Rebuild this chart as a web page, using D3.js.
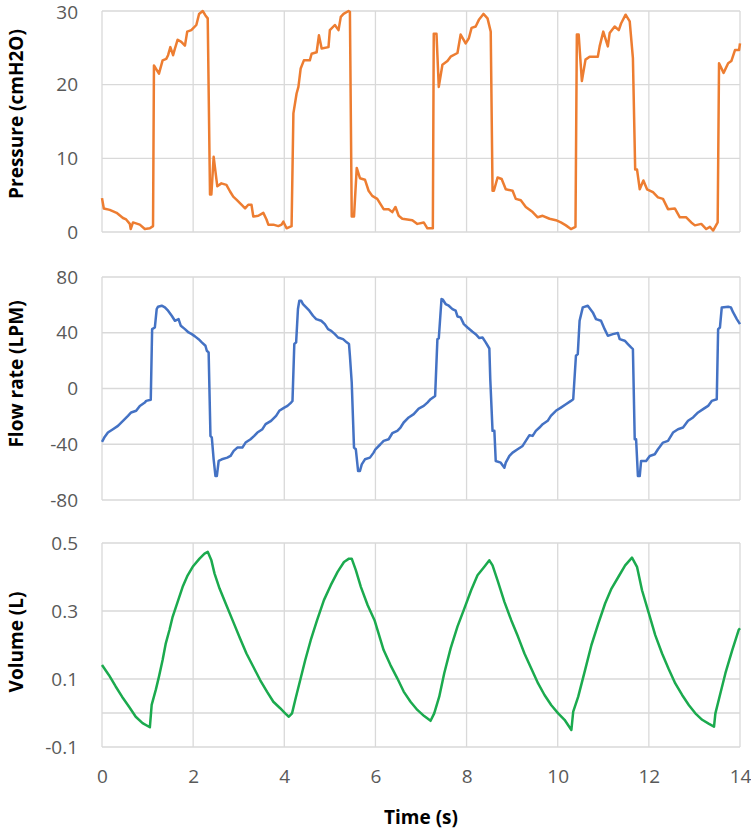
<!DOCTYPE html>
<html>
<head>
<meta charset="utf-8">
<script src="https://cdn.jsdelivr.net/npm/d3@7"></script>
<style>
  html, body { margin: 0; padding: 0; background: #fff; }
  svg { display: block; }
</style>
</head>
<body>
<svg id="chart" width="751" height="830"></svg>
<script>
// ---- Data ----
const timeTicks = [0, 2, 4, 6, 8, 10, 12, 14];

const pressureTicks = [0, 10, 20, 30];
const pressureTime = [0.00,0.04,0.17,0.32,0.46,0.53,0.61,0.63,0.68,0.83,0.94,1.05,1.12,1.14,1.25,1.33,1.41,1.45,1.50,1.56,1.60,1.66,1.74,1.82,1.87,1.96,2.07,2.13,2.21,2.27,2.32,2.37,2.40,2.45,2.53,2.62,2.73,2.81,2.88,2.95,3.06,3.14,3.21,3.28,3.32,3.43,3.54,3.61,3.65,3.76,3.87,3.94,3.98,4.05,4.16,4.20,4.27,4.31,4.36,4.43,4.56,4.60,4.71,4.76,4.82,4.97,5.00,5.11,5.19,5.24,5.30,5.41,5.44,5.48,5.53,5.59,5.66,5.77,5.85,5.93,6.04,6.18,6.29,6.37,6.44,6.51,6.59,6.81,6.92,7.06,7.14,7.26,7.28,7.34,7.39,7.47,7.58,7.65,7.80,7.87,7.98,8.05,8.11,8.20,8.27,8.37,8.46,8.53,8.57,8.60,8.68,8.77,8.86,9.01,9.08,9.19,9.30,9.45,9.56,9.67,9.82,9.96,10.07,10.18,10.29,10.39,10.42,10.46,10.53,10.61,10.70,10.88,10.92,11.00,11.10,11.14,11.25,11.34,11.39,11.49,11.58,11.65,11.70,11.74,11.80,11.88,11.96,12.09,12.20,12.31,12.42,12.57,12.68,12.82,12.93,13.01,13.15,13.26,13.34,13.41,13.51,13.54,13.64,13.74,13.81,13.89,13.98,14.00];
const pressureValues = [4.6,3.2,3.0,2.6,1.9,1.7,1.1,0.4,1.3,1.0,0.4,0.5,0.8,22.6,21.5,23.3,23.5,24.0,25.1,24.0,24.9,26.1,25.8,25.3,27.2,27.4,28.1,29.6,30.0,29.4,29.0,5.1,5.1,10.2,6.2,6.6,6.4,5.5,4.8,4.4,3.7,3.2,3.7,3.7,2.1,2.2,2.6,1.7,1.0,1.0,0.8,1.0,1.4,0.5,0.8,16.1,18.8,19.7,22.2,23.3,23.3,24.2,24.4,26.7,24.9,25.1,27.4,28.1,27.4,29.2,29.6,30.0,29.9,2.1,2.1,8.7,7.3,7.1,5.6,4.9,4.5,3.1,3.1,2.7,3.4,2.2,1.8,1.6,1.1,1.3,0.5,0.5,26.9,26.9,19.7,22.7,23.2,23.8,24.3,26.8,25.6,26.3,27.7,27.9,28.8,29.6,29.0,27.2,5.6,5.6,7.4,7.2,5.8,5.6,4.5,4.3,3.4,2.7,2.0,2.2,1.8,1.6,1.3,0.9,0.4,0.7,26.8,26.8,20.5,23.4,23.8,23.8,25.2,27.2,25.2,27.0,27.9,27.4,28.3,29.5,28.6,23.6,8.5,8.5,5.8,7.0,5.8,5.4,4.7,4.5,3.1,3.2,2.0,2.0,1.3,0.9,1.1,0.4,0.7,0.2,1.3,22.9,21.6,22.9,23.2,24.7,24.7,25.6];

const flowTicks = [-80, -40, 0, 40, 80];
const flowTime = [0.00,0.05,0.13,0.24,0.35,0.46,0.57,0.64,0.75,0.83,0.94,0.97,1.07,1.10,1.16,1.20,1.23,1.31,1.38,1.45,1.53,1.60,1.68,1.73,1.82,1.90,1.97,2.04,2.12,2.19,2.27,2.30,2.34,2.38,2.41,2.45,2.49,2.52,2.56,2.63,2.75,2.82,2.89,2.97,3.08,3.15,3.26,3.34,3.41,3.52,3.59,3.71,3.82,3.89,4.00,4.07,4.15,4.18,4.22,4.26,4.30,4.33,4.37,4.41,4.48,4.55,4.63,4.70,4.81,4.89,4.96,5.03,5.11,5.18,5.29,5.37,5.42,5.44,5.48,5.53,5.57,5.62,5.66,5.70,5.77,5.88,5.96,6.00,6.11,6.18,6.29,6.37,6.48,6.55,6.62,6.73,6.84,6.95,7.06,7.14,7.21,7.31,7.36,7.39,7.45,7.48,7.54,7.61,7.69,7.76,7.80,7.87,7.94,8.02,8.13,8.20,8.28,8.35,8.42,8.50,8.52,8.57,8.61,8.64,8.75,8.83,8.86,8.94,9.01,9.12,9.23,9.30,9.38,9.45,9.52,9.60,9.67,9.78,9.85,9.96,10.07,10.18,10.29,10.34,10.40,10.44,10.48,10.55,10.66,10.77,10.84,10.95,11.03,11.10,11.21,11.32,11.36,11.47,11.54,11.61,11.65,11.69,11.72,11.76,11.80,11.83,11.94,12.02,12.13,12.20,12.31,12.42,12.53,12.64,12.75,12.86,12.97,13.08,13.19,13.30,13.38,13.49,13.52,13.56,13.60,13.74,13.80,13.85,13.93,14.00];
const flowValues = [-38.3,-35.2,-31.6,-29.2,-26.8,-23.2,-19.6,-17.2,-16.0,-12.5,-10.1,-8.9,-8.1,42.6,43.8,57.0,58.7,59.4,58.2,55.8,52.2,48.6,49.8,45.0,42.6,40.2,39.0,37.4,35.4,33.1,30.7,27.1,25.9,-34.0,-35.2,-50.8,-62.8,-62.8,-52.0,-50.8,-49.6,-48.4,-44.8,-42.4,-42.4,-38.8,-36.4,-34.0,-31.6,-29.2,-25.6,-23.2,-19.6,-16.0,-13.7,-12.5,-10.1,-8.9,31.9,33.1,57.0,63.0,63.0,60.6,58.2,55.8,52.2,49.8,48.6,46.2,42.6,41.4,39.0,36.6,35.4,33.1,31.9,23.5,4.3,-42.4,-43.6,-59.2,-59.2,-54.4,-50.8,-49.6,-46.0,-43.6,-40.0,-37.6,-36.4,-32.1,-30.4,-28.0,-24.4,-20.8,-18.4,-14.4,-12.5,-10.1,-7.7,-5.3,35.4,35.9,64.2,63.7,60.6,59.4,57.0,55.8,51.7,51.0,46.2,43.8,40.7,39.0,36.2,36.6,33.1,28.7,6.7,-30.4,-30.4,-52.0,-53.2,-56.8,-53.2,-48.4,-46.0,-43.6,-41.2,-37.6,-33.5,-34.0,-30.4,-28.0,-25.6,-23.2,-19.6,-16.0,-13.7,-11.3,-8.9,-7.7,23.5,24.7,48.6,58.2,59.4,54.6,49.8,48.6,42.6,37.8,39.0,39.8,35.4,34.3,31.9,29.5,28.3,-36.4,-36.4,-62.8,-62.8,-52.0,-52.0,-48.4,-47.2,-43.6,-38.8,-37.6,-31.6,-29.2,-28.0,-23.2,-20.8,-17.2,-14.8,-12.5,-8.9,-7.7,42.6,43.8,58.2,58.7,58.2,54.6,49.8,46.2];

const volumeTickValues = [-0.1, 0.1, 0.3, 0.5];
const volumeTickLabels = ["-0.1", "0.1", "0.3", "0.5"];
const volumeTime = [0.00,0.15,0.30,0.44,0.59,0.74,0.89,1.05,1.09,1.18,1.25,1.33,1.40,1.48,1.55,1.66,1.77,1.88,1.99,2.14,2.25,2.32,2.40,2.47,2.58,2.73,2.88,3.03,3.17,3.32,3.47,3.62,3.76,3.91,4.02,4.10,4.17,4.24,4.35,4.46,4.58,4.72,4.87,5.02,5.17,5.31,5.42,5.48,5.57,5.68,5.83,5.98,6.18,6.33,6.48,6.62,6.77,6.92,7.07,7.21,7.29,7.40,7.51,7.65,7.80,7.95,8.10,8.24,8.39,8.50,8.57,8.68,8.83,8.98,9.13,9.27,9.42,9.57,9.71,9.86,10.01,10.15,10.30,10.34,10.45,10.60,10.74,10.89,11.04,11.18,11.33,11.48,11.63,11.74,11.85,12.00,12.14,12.29,12.43,12.58,12.73,12.88,13.02,13.17,13.32,13.43,13.46,13.57,13.68,13.83,13.97,14.00];
const volumeValues = [0.141,0.112,0.078,0.048,0.019,-0.011,-0.030,-0.042,0.024,0.068,0.107,0.156,0.205,0.244,0.283,0.327,0.371,0.405,0.430,0.454,0.469,0.474,0.449,0.410,0.366,0.317,0.268,0.219,0.175,0.136,0.097,0.063,0.033,0.014,-0.001,-0.011,-0.001,0.038,0.097,0.156,0.214,0.273,0.332,0.376,0.415,0.444,0.454,0.454,0.420,0.371,0.317,0.273,0.185,0.141,0.102,0.063,0.033,0.009,-0.009,-0.023,-0.001,0.048,0.117,0.190,0.254,0.307,0.361,0.405,0.430,0.449,0.434,0.390,0.327,0.273,0.224,0.175,0.131,0.087,0.053,0.023,-0.001,-0.020,-0.050,0.004,0.048,0.126,0.200,0.263,0.322,0.366,0.400,0.434,0.457,0.430,0.361,0.293,0.229,0.175,0.131,0.087,0.053,0.023,-0.001,-0.020,-0.032,-0.040,-0.001,0.058,0.117,0.185,0.244,0.249];

// ---- Layout ----
const svg = d3.select("#chart");
const left = 102, right = 740;
const x = d3.scaleLinear().domain([0, 14]).range([left, right]);
const gridColor = "#d9d9d9";
const tickColor = "#595959";
const tickFont = "'Open Sans', sans-serif";

function panel(cfg) {
  const y = d3.scaleLinear().domain(cfg.domain).range([cfg.bottom, cfg.top]);
  const g = svg.append("g");
  // vertical gridlines
  g.selectAll("line.vg").data(timeTicks).join("line")
    .attr("x1", d => x(d)).attr("x2", d => x(d))
    .attr("y1", cfg.top).attr("y2", cfg.bottom)
    .attr("stroke", gridColor).attr("stroke-width", 1.3);
  // horizontal gridlines
  g.selectAll("line.hg").data(cfg.gridValues).join("line")
    .attr("x1", left).attr("x2", right)
    .attr("y1", d => y(d)).attr("y2", d => y(d))
    .attr("stroke", gridColor).attr("stroke-width", 1.3);
  // y axis tick labels
  const axis = d3.axisLeft(y).tickValues(cfg.tickValues)
    .tickFormat((d, i) => cfg.tickLabels[i]).tickSize(0).tickPadding(24);
  const ag = g.append("g").attr("transform", `translate(${left},0)`).call(axis);
  ag.select(".domain").remove();
  ag.selectAll("text").attr("fill", tickColor)
    .style("font-family", tickFont).style("font-size", "19px");
  // keep the topmost label inside the picture
  ag.selectAll(".tick").each(function () {
    const t = d3.select(this);
    const ty = y(t.datum());
    if (ty < 20) t.select("text").attr("y", 20 - ty - 8);
  });
  // data line
  const pts = cfg.time.map((t, i) => [t, cfg.values[i]]);
  g.append("path").datum(pts)
    .attr("fill", "none").attr("stroke", cfg.color).attr("stroke-width", 2.5)
    .attr("stroke-linejoin", "round")
    .attr("d", d3.line().x(d => x(d[0])).y(d => y(d[1])));
  // axis title
  g.append("text")
    .attr("transform", `translate(${cfg.titleX},${cfg.titleY}) rotate(-90)`)
    .attr("text-anchor", "middle").attr("dominant-baseline", "central")
    .style("font-family", tickFont).style("font-size", "19px").style("font-weight", "bold")
    .attr("fill", "#000").text(cfg.title);
  return y;
}

panel({
  domain: [0, 30], top: 11, bottom: 232,
  gridValues: pressureTicks, tickValues: pressureTicks, tickLabels: pressureTicks.map(String),
  time: pressureTime, values: pressureValues, color: "#ED7D31",
  title: "Pressure (cmH2O)", titleX: 16, titleY: 114
});
panel({
  domain: [-80, 80], top: 277, bottom: 500,
  gridValues: flowTicks, tickValues: flowTicks, tickLabels: flowTicks.map(String),
  time: flowTime, values: flowValues, color: "#4472C4",
  title: "Flow rate (LPM)", titleX: 16, titleY: 374
});
panel({
  domain: [-0.1, 0.5], top: 543, bottom: 747,
  gridValues: volumeTickValues.concat([0]), tickValues: volumeTickValues, tickLabels: volumeTickLabels,
  time: volumeTime, values: volumeValues, color: "#1BAA4E",
  title: "Volume (L)", titleX: 16, titleY: 642
});

// x axis labels
const xAxis = d3.axisBottom(x).tickValues(timeTicks).tickFormat(d3.format("d")).tickSize(0).tickPadding(0);
const xg = svg.append("g").attr("transform", "translate(0,769)").call(xAxis);
xg.select(".domain").remove();
xg.selectAll("text").attr("fill", tickColor)
  .style("font-family", tickFont).style("font-size", "19px");

svg.append("text").attr("x", 421).attr("y", 817)
  .attr("text-anchor", "middle").attr("dominant-baseline", "central")
  .style("font-family", tickFont).style("font-size", "19px").style("font-weight", "bold")
  .attr("fill", "#000").text("Time (s)");
</script>
</body>
</html>
